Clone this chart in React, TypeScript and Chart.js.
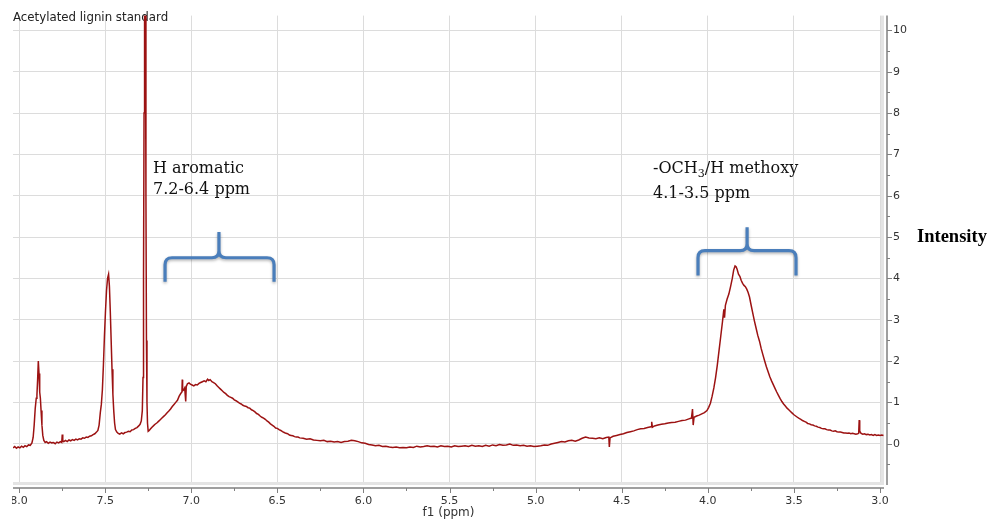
import React, { useEffect, useRef } from 'react';
import { Chart, registerables } from 'chart.js';

Chart.register(...registerables);

// ---- Data ----
const PPM: number[] = [
  8.035, 8.025, 8.015, 8.005, 7.995, 7.985, 7.975, 7.965, 7.955, 7.945, 7.935, 7.925, 7.918, 7.912, 7.906,
  7.9, 7.896, 7.892, 7.888, 7.884, 7.88, 7.876, 7.872, 7.867, 7.862, 7.856, 7.848, 7.84, 7.83, 7.82,
  7.81, 7.8, 7.79, 7.78, 7.77, 7.76, 7.752, 7.749, 7.746, 7.74, 7.73, 7.72, 7.71, 7.7, 7.69,
  7.68, 7.67, 7.66, 7.65, 7.64, 7.63, 7.62, 7.61, 7.6, 7.59, 7.58, 7.57, 7.56, 7.55, 7.542,
  7.535, 7.528, 7.522, 7.516, 7.51, 7.504, 7.498, 7.492, 7.486, 7.48, 7.475, 7.47, 7.465, 7.46, 7.455,
  7.45, 7.445, 7.44, 7.432, 7.424, 7.415, 7.405, 7.395, 7.385, 7.375, 7.365, 7.355, 7.345, 7.335, 7.325,
  7.315, 7.305, 7.297, 7.29, 7.284, 7.28, 7.277, 7.274, 7.271, 7.266, 7.263, 7.26, 7.257, 7.254, 7.25,
  7.244, 7.236, 7.228, 7.22, 7.21, 7.2, 7.19, 7.18, 7.17, 7.16, 7.15, 7.14, 7.13, 7.12, 7.11,
  7.1, 7.09, 7.08, 7.07, 7.06, 7.054, 7.052, 7.05, 7.044, 7.038, 7.032, 7.029, 7.022, 7.013, 7.005,
  6.995, 6.985, 6.975, 6.965, 6.955, 6.945, 6.935, 6.925, 6.915, 6.905, 6.898, 6.89, 6.88, 6.87, 6.86,
  6.85, 6.84, 6.83, 6.82, 6.81, 6.8, 6.79, 6.78, 6.77, 6.76, 6.75, 6.74, 6.73, 6.72, 6.71,
  6.7, 6.69, 6.68, 6.67, 6.66, 6.65, 6.64, 6.63, 6.62, 6.61, 6.6, 6.59, 6.58, 6.57, 6.56,
  6.55, 6.54, 6.53, 6.52, 6.51, 6.5, 6.49, 6.48, 6.47, 6.46, 6.45, 6.44, 6.43, 6.42, 6.41,
  6.4, 6.39, 6.38, 6.37, 6.35, 6.33, 6.31, 6.29, 6.27, 6.25, 6.23, 6.21, 6.19, 6.17, 6.15,
  6.13, 6.11, 6.09, 6.07, 6.05, 6.03, 6.01, 5.99, 5.97, 5.95, 5.93, 5.91, 5.89, 5.87, 5.85,
  5.83, 5.81, 5.79, 5.77, 5.75, 5.73, 5.71, 5.69, 5.67, 5.65, 5.63, 5.61, 5.59, 5.57, 5.55,
  5.53, 5.51, 5.49, 5.47, 5.45, 5.43, 5.41, 5.39, 5.37, 5.35, 5.33, 5.31, 5.29, 5.27, 5.25,
  5.23, 5.21, 5.19, 5.17, 5.15, 5.13, 5.11, 5.09, 5.07, 5.05, 5.03, 5.01, 4.99, 4.97, 4.95,
  4.93, 4.91, 4.89, 4.87, 4.85, 4.83, 4.81, 4.79, 4.77, 4.75, 4.73, 4.71, 4.69, 4.67, 4.65,
  4.63, 4.61, 4.59, 4.575, 4.572, 4.568, 4.55, 4.53, 4.51, 4.49, 4.47, 4.45, 4.43, 4.41, 4.39,
  4.37, 4.35, 4.33, 4.326, 4.322, 4.31, 4.29, 4.27, 4.25, 4.23, 4.21, 4.19, 4.17, 4.15, 4.13,
  4.11, 4.095, 4.089, 4.085, 4.08, 4.065, 4.05, 4.035, 4.02, 4.005, 3.995, 3.985, 3.975, 3.965, 3.955,
  3.945, 3.935, 3.925, 3.915, 3.907, 3.903, 3.898, 3.888, 3.878, 3.868, 3.858, 3.85, 3.842, 3.836, 3.83,
  3.822, 3.814, 3.806, 3.798, 3.79, 3.782, 3.774, 3.766, 3.758, 3.75, 3.74, 3.73, 3.72, 3.71, 3.7,
  3.69, 3.68, 3.67, 3.66, 3.65, 3.64, 3.63, 3.62, 3.61, 3.6, 3.59, 3.58, 3.57, 3.56, 3.55,
  3.54, 3.53, 3.52, 3.51, 3.5, 3.49, 3.48, 3.47, 3.46, 3.45, 3.44, 3.43, 3.42, 3.41, 3.4,
  3.39, 3.38, 3.37, 3.36, 3.35, 3.34, 3.33, 3.32, 3.31, 3.3, 3.29, 3.28, 3.27, 3.26, 3.25,
  3.24, 3.23, 3.22, 3.21, 3.2, 3.19, 3.18, 3.17, 3.16, 3.15, 3.14, 3.13, 3.124, 3.121, 3.118,
  3.11, 3.1, 3.09, 3.08, 3.07, 3.06, 3.05, 3.04, 3.03, 3.02, 3.01, 3.0, 2.99, 2.98,
];

const INTENSITY: number[] = [
  -0.1, -0.07, -0.11, -0.08, -0.1, -0.06, -0.09, -0.05, -0.07, -0.03, -0.04, 0.02, 0.15, 0.45, 0.85,
  1.1, 1.18, 1.55, 2.0, 1.7, 1.25, 1.1, 0.8, 0.45, 0.2, 0.08, 0.03, 0.05, 0.01, 0.04,
  0.02, 0.03, 0.0, 0.04, 0.02, 0.05, 0.03, 0.22, 0.06, 0.05, 0.08, 0.05, 0.09, 0.07, 0.1,
  0.08, 0.11, 0.09, 0.12, 0.11, 0.14, 0.13, 0.16, 0.15, 0.18, 0.19, 0.22, 0.24, 0.28, 0.32,
  0.45, 0.75, 0.95, 1.3, 1.9, 2.6, 3.2, 3.7, 4.0, 4.1, 3.8, 3.2, 2.5, 1.8, 1.2,
  0.8, 0.5, 0.34, 0.28, 0.25, 0.23, 0.26, 0.24, 0.27, 0.28, 0.3, 0.29, 0.33, 0.34, 0.37,
  0.39, 0.43, 0.47, 0.55, 0.8, 1.6, 4.0, 8.0, 10.6, 10.6, 6.0, 2.5, 1.0, 0.5, 0.3,
  0.32, 0.36, 0.4, 0.43, 0.47, 0.5, 0.54, 0.58, 0.62, 0.66, 0.7, 0.75, 0.79, 0.84, 0.9,
  0.95, 1.0, 1.05, 1.15, 1.22, 1.25, 1.55, 1.28, 1.3, 1.35, 1.02, 1.38, 1.45, 1.47, 1.44,
  1.42, 1.4, 1.43, 1.42, 1.46, 1.48, 1.5, 1.52, 1.5, 1.56, 1.53, 1.55, 1.5, 1.48, 1.45,
  1.4, 1.36, 1.32, 1.28, 1.24, 1.21, 1.17, 1.14, 1.12, 1.1, 1.06, 1.04, 1.01, 0.98, 0.96,
  0.93, 0.91, 0.9, 0.87, 0.86, 0.82, 0.8, 0.77, 0.73, 0.71, 0.67, 0.64, 0.62, 0.59, 0.55,
  0.52, 0.48, 0.45, 0.42, 0.38, 0.37, 0.34, 0.32, 0.29, 0.27, 0.25, 0.24, 0.21, 0.2, 0.19,
  0.17, 0.16, 0.16, 0.14, 0.13, 0.11, 0.12, 0.09, 0.08, 0.07, 0.08, 0.05, 0.06, 0.04, 0.05,
  0.03, 0.05, 0.06, 0.08, 0.07, 0.05, 0.02, 0.01, -0.02, -0.03, -0.05, -0.04, -0.07, -0.06, -0.08,
  -0.09, -0.08, -0.1, -0.09, -0.1, -0.08, -0.09, -0.06, -0.08, -0.07, -0.05, -0.07, -0.06, -0.08, -0.05,
  -0.07, -0.06, -0.08, -0.05, -0.07, -0.06, -0.05, -0.07, -0.04, -0.06, -0.05, -0.07, -0.04, -0.06, -0.03,
  -0.05, -0.02, -0.04, -0.03, -0.01, -0.04, -0.03, -0.05, -0.04, -0.06, -0.05, -0.07, -0.06, -0.05, -0.03,
  -0.04, -0.01, 0.01, 0.03, 0.05, 0.04, 0.07, 0.08, 0.06, 0.09, 0.13, 0.16, 0.14, 0.13, 0.12,
  0.14, 0.12, 0.15, 0.16, -0.08, 0.14, 0.18, 0.2, 0.22, 0.24, 0.27, 0.29, 0.31, 0.34, 0.36,
  0.37, 0.39, 0.41, 0.53, 0.4, 0.43, 0.45, 0.47, 0.48, 0.5, 0.51, 0.52, 0.54, 0.56, 0.57,
  0.6, 0.62, 0.84, 0.45, 0.64, 0.67, 0.69, 0.72, 0.75, 0.8, 0.88, 0.98, 1.15, 1.35, 1.6,
  1.9, 2.25, 2.6, 2.95, 3.25, 3.05, 3.35, 3.5, 3.62, 3.8, 4.0, 4.2, 4.3, 4.28, 4.22,
  4.1, 4.05, 3.95, 3.88, 3.83, 3.8, 3.74, 3.66, 3.55, 3.38, 3.18, 2.98, 2.8, 2.62, 2.48,
  2.3, 2.15, 2.0, 1.86, 1.74, 1.62, 1.52, 1.43, 1.34, 1.25, 1.17, 1.09, 1.02, 0.96, 0.91,
  0.86, 0.82, 0.78, 0.74, 0.7, 0.67, 0.64, 0.61, 0.59, 0.56, 0.54, 0.52, 0.49, 0.48, 0.46,
  0.45, 0.43, 0.42, 0.4, 0.39, 0.37, 0.36, 0.36, 0.34, 0.33, 0.33, 0.31, 0.3, 0.31, 0.29,
  0.28, 0.28, 0.27, 0.26, 0.26, 0.25, 0.26, 0.24, 0.25, 0.24, 0.23, 0.24, 0.25, 0.57, 0.3,
  0.25, 0.23, 0.24, 0.22, 0.23, 0.21, 0.22, 0.2, 0.22, 0.2, 0.21, 0.2, 0.21, 0.2,
];

const X_TICKS: number[] = [8.0, 7.5, 7.0, 6.5, 6.0, 5.5, 5.0, 4.5, 4.0, 3.5, 3.0];
const Y_TICKS: number[] = [0, 1, 2, 3, 4, 5, 6, 7, 8, 9, 10];
const X_MIN = 2.977;
const X_MAX = 8.035;
const Y_MIN = -1.0;
const Y_MAX = 10.36;

const TITLE = 'Acetylated lignin standard';
const X_TITLE = 'f1 (ppm)';
const Y_TITLE = 'Intensity';

// annotation: region labels (ppm anchor, intensity baselines)
const AROMATIC_LINES: string[] = ['H aromatic', '7.2-6.4 ppm'];
const AROMATIC_ANCHOR: number[] = [7.222, 6.555, 6.05];
const METHOXY_LINE2 = '4.1-3.5 ppm';
const METHOXY_ANCHOR: number[] = [4.318, 6.555, 5.957];
// brackets: [from ppm, to ppm, mid ppm, end level, bar level, tip level]
const BRACKET_AROMATIC: number[] = [7.152, 6.519, 6.839, 3.92, 4.5, 5.12];
const BRACKET_METHOXY: number[] = [4.057, 3.488, 3.772, 4.07, 4.67, 5.24];

const overlayPlugin = {
  id: 'overlay',
  beforeDatasetsDraw(chart: any) {
    const { ctx, chartArea: ca } = chart;
    ctx.save();
    ctx.fillStyle = '#e4e4e4';
    ctx.fillRect(ca.right - 3, ca.top, 3, ca.bottom - ca.top);
    ctx.fillRect(ca.left, ca.bottom - 3, ca.right - ca.left, 3);
    ctx.fillStyle = '#222';
    ctx.font = '11.8px "DejaVu Sans"';
    ctx.textBaseline = 'alphabetic';
    ctx.textAlign = 'left';
    ctx.fillText(TITLE, ca.left, 21);
    ctx.restore();
  },
  afterDraw(chart: any) {
    const { ctx, chartArea: ca } = chart;
    const xs = chart.scales.x;
    const ys = chart.scales.y;
    ctx.save();
    // crop at the left edge, as in the reference
    ctx.fillStyle = '#fff';
    ctx.fillRect(0, ca.bottom + 6, 12, 30);
    // axes
    ctx.strokeStyle = '#808080';
    ctx.lineWidth = 1.5;
    const ax = ca.right + 3;
    const ay = ca.bottom + 3;
    ctx.beginPath();
    ctx.moveTo(ax, ca.top);
    ctx.lineTo(ax, ca.bottom);
    ctx.moveTo(ca.left, ay);
    ctx.lineTo(ca.right, ay);
    ctx.stroke();
    ctx.lineWidth = 1;
    ctx.beginPath();
    Y_TICKS.forEach((v) => {
      const p = Math.round(ys.getPixelForValue(v)) + 0.5;
      ctx.moveTo(ax, p);
      ctx.lineTo(ax + 5, p);
      const m = v - 0.5;
      if (m >= Y_MIN) {
        const q = Math.round(ys.getPixelForValue(m)) + 0.5;
        ctx.moveTo(ax, q);
        ctx.lineTo(ax + 3, q);
      }
    });
    X_TICKS.forEach((v) => {
      const p = Math.round(xs.getPixelForValue(v)) + 0.5;
      ctx.moveTo(p, ay);
      ctx.lineTo(p, ay + 5);
      const m = v - 0.25;
      if (m >= X_MIN) {
        const q = Math.round(xs.getPixelForValue(m)) + 0.5;
        ctx.moveTo(q, ay);
        ctx.lineTo(q, ay + 3);
      }
    });
    ctx.stroke();

    // axis titles
    ctx.fillStyle = '#333';
    ctx.font = '12px "DejaVu Sans"';
    ctx.textAlign = 'center';
    ctx.textBaseline = 'alphabetic';
    ctx.fillText(X_TITLE, (ca.left + ca.right) / 2, 516);
    ctx.fillStyle = '#000';
    ctx.font = 'bold 18.5px "Liberation Serif"';
    ctx.textAlign = 'left';
    ctx.fillText(Y_TITLE, ca.right + 33, 242);

    // region labels
    ctx.fillStyle = '#111';
    ctx.font = '16px "DejaVu Serif"';
    const ax1 = xs.getPixelForValue(AROMATIC_ANCHOR[0]);
    ctx.fillText(AROMATIC_LINES[0], ax1, ys.getPixelForValue(AROMATIC_ANCHOR[1]));
    ctx.fillText(AROMATIC_LINES[1], ax1, ys.getPixelForValue(AROMATIC_ANCHOR[2]));
    const mx = xs.getPixelForValue(METHOXY_ANCHOR[0]);
    const my = ys.getPixelForValue(METHOXY_ANCHOR[1]);
    let cx = mx;
    ctx.fillText('-OCH', cx, my);
    cx += ctx.measureText('-OCH').width;
    ctx.font = '11px "DejaVu Serif"';
    ctx.fillText('3', cx, my + 4);
    cx += ctx.measureText('3').width;
    ctx.font = '16px "DejaVu Serif"';
    ctx.fillText('/H methoxy', cx, my);
    ctx.fillText(METHOXY_LINE2, mx, ys.getPixelForValue(METHOXY_ANCHOR[2]));

    // brackets
    const drawBracket = (b: number[]) => {
      const x1 = xs.getPixelForValue(b[0]);
      const x2 = xs.getPixelForValue(b[1]);
      const xc = xs.getPixelForValue(b[2]);
      const yb = ys.getPixelForValue(b[3]);
      const yh = ys.getPixelForValue(b[4]);
      const yt = ys.getPixelForValue(b[5]);
      const r = 7;
      ctx.beginPath();
      ctx.moveTo(x1, yb);
      ctx.lineTo(x1, yh + r);
      ctx.quadraticCurveTo(x1, yh, x1 + r, yh);
      ctx.lineTo(xc - r, yh);
      ctx.quadraticCurveTo(xc, yh, xc, yh - r);
      ctx.lineTo(xc, yt);
      ctx.moveTo(xc, yh - r);
      ctx.quadraticCurveTo(xc, yh, xc + r, yh);
      ctx.lineTo(x2 - r, yh);
      ctx.quadraticCurveTo(x2, yh, x2, yh + r);
      ctx.lineTo(x2, yb);
      ctx.stroke();
    };
    ctx.strokeStyle = '#4a7ebb';
    ctx.lineWidth = 3.2;
    ctx.lineCap = 'butt';
    ctx.lineJoin = 'round';
    ctx.shadowColor = 'rgba(0,0,0,0.3)';
    ctx.shadowBlur = 3;
    ctx.shadowOffsetY = 1.5;
    drawBracket(BRACKET_AROMATIC);
    drawBracket(BRACKET_METHOXY);
    ctx.restore();
  },
};

export default function App() {
  const ref = useRef<HTMLCanvasElement | null>(null);
  useEffect(() => {
    if (!ref.current) return;
    const chart = new Chart(ref.current, {
      type: 'line',
      data: {
        datasets: [
          {
            data: PPM.map((x, i) => ({ x, y: INTENSITY[i] })),
            borderColor: '#9c1212',
            borderWidth: 1.5,
            pointRadius: 0,
            tension: 0,
          },
        ],
      },
      options: {
        animation: false,
        responsive: false,
        layout: { padding: { left: 13, top: 10, right: 0, bottom: 0 } },
        plugins: { legend: { display: false }, tooltip: { enabled: false }, title: { display: false } },
        scales: {
          x: {
            type: 'linear',
            reverse: true,
            min: X_MIN,
            max: X_MAX,
            afterBuildTicks: (s: any) => {
              s.ticks = X_TICKS.map((v) => ({ value: v }));
            },
            afterFit: (s: any) => {
              s.height = 35;
            },
            grid: { color: '#dcdcdc', drawTicks: false },
            border: { display: false },
            ticks: {
              padding: 10,
              maxRotation: 0,
              autoSkip: false,
              color: '#333',
              font: { family: 'DejaVu Sans', size: 11 },
              callback: (v: any) => Number(v).toFixed(1),
            },
          },
          y: {
            type: 'linear',
            position: 'right',
            min: Y_MIN,
            max: Y_MAX,
            afterBuildTicks: (s: any) => {
              s.ticks = Y_TICKS.map((v) => ({ value: v }));
            },
            afterFit: (s: any) => {
              s.width = 117;
            },
            grid: { color: '#dcdcdc', drawTicks: false },
            border: { display: false },
            ticks: {
              padding: 9,
              autoSkip: false,
              color: '#333',
              font: { family: 'DejaVu Sans', size: 11 },
              callback: (v: any) => String(v),
            },
          },
        },
      },
      plugins: [overlayPlugin],
    });
    return () => chart.destroy();
  }, []);
  return (
    <div style={{ position: 'fixed', left: 0, top: 0, width: 1001, height: 520, background: '#fff' }}>
      <canvas ref={ref} width={1001} height={520} />
    </div>
  );
}
